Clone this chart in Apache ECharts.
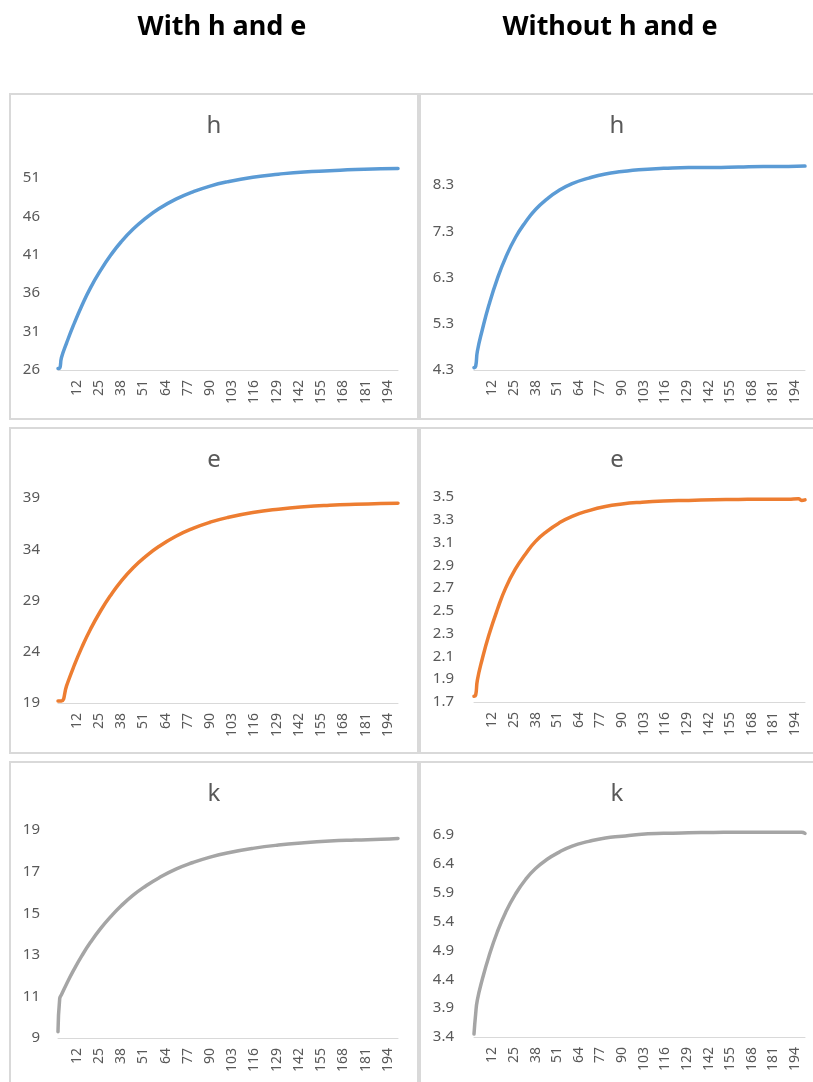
<!DOCTYPE html>
<html lang="en">
<head>
<meta charset="UTF-8">
<title>h, e, k</title>
<style>
  body { margin: 0; background: #fff; }
  #main { width: 813px; height: 1082px; }
</style>
</head>
<body>
<div id="main"></div>
<script src="https://cdn.jsdelivr.net/npm/echarts@6/dist/echarts.min.js"></script>
<script>
  // x categories 1..200
  var cats = [];
  for (var i = 1; i <= 200; i++) cats.push(String(i));

  // values (x = category number, y = value)
  var hWithX = [1, 2, 3, 6, 10, 15, 20, 26, 32, 38, 45, 52, 60, 70, 80, 90, 100, 115, 130, 145, 160, 175, 190, 200];
  var hWithY = [26.2, 26.25, 27.6, 29.5, 31.8, 34.4, 36.7, 39.0, 41.0, 42.7, 44.35, 45.7, 47.0, 48.25, 49.2, 49.95, 50.5, 51.1, 51.5, 51.8, 51.95, 52.1, 52.2, 52.25];

  var hWoX = [1, 2, 3, 6, 10, 15, 20, 26, 32, 38, 45, 52, 60, 70, 80, 90, 100, 115, 130, 145, 160, 175, 190, 200];
  var hWoY = [4.35, 4.38, 4.70, 5.17, 5.71, 6.27, 6.73, 7.17, 7.50, 7.77, 8.00, 8.18, 8.33, 8.45, 8.54, 8.59, 8.63, 8.66, 8.68, 8.68, 8.69, 8.70, 8.70, 8.71];

  var eWithX = [1, 3, 6, 10, 15, 20, 26, 32, 38, 45, 52, 60, 70, 80, 90, 100, 115, 130, 145, 160, 175, 190, 200];
  var eWithY = [19.2, 19.2, 20.67, 22.46, 24.45, 26.2, 28.0, 29.55, 30.9, 32.2, 33.26, 34.27, 35.27, 36.04, 36.64, 37.09, 37.58, 37.91, 38.14, 38.29, 38.39, 38.46, 38.5];

  var eWoX = [1, 2, 3, 6, 10, 15, 20, 26, 32, 38, 45, 52, 60, 70, 80, 90, 100, 115, 130, 145, 160, 175, 190, 196, 198, 200];
  var eWoY = [1.75, 1.76, 1.89, 2.08, 2.29, 2.51, 2.70, 2.87, 3.0, 3.11, 3.20, 3.27, 3.33, 3.38, 3.416, 3.438, 3.452, 3.465, 3.47, 3.475, 3.478, 3.48, 3.48, 3.485, 3.47, 3.475];

  var kWithX = [1, 2, 3, 6, 10, 15, 20, 26, 32, 38, 45, 52, 60, 70, 80, 90, 100, 115, 130, 145, 160, 175, 190, 200];
  var kWithY = [9.3, 10.9, 11.08, 11.6, 12.24, 12.96, 13.6, 14.27, 14.85, 15.36, 15.87, 16.29, 16.7, 17.12, 17.44, 17.70, 17.9, 18.12, 18.28, 18.39, 18.47, 18.52, 18.56, 18.6];

  var kWoX = [1, 2, 3, 6, 10, 15, 20, 26, 32, 38, 45, 52, 60, 70, 80, 90, 100, 115, 130, 145, 160, 175, 190, 198, 200];
  var kWoY = [3.45, 3.8, 4.04, 4.4, 4.8, 5.22, 5.56, 5.88, 6.13, 6.32, 6.48, 6.6, 6.71, 6.79, 6.85, 6.88, 6.91, 6.93, 6.94, 6.945, 6.95, 6.95, 6.95, 6.95, 6.93];

  // y axis ticks: first tick label and step
  var yMins = [26, 4.3, 19, 1.7, 9, 3.4];
  var ySteps = [5, 1, 5, 0.2, 2, 0.5];

  var headers = ['With h and e', 'Without h and e'];
  var titles = ['h', 'h', 'e', 'e', 'k', 'k'];

  var blue = '#5B9BD5', orange = '#ED7D31', grey = '#A5A5A5';
  var font = '"Noto Sans", "Open Sans", sans-serif';

  // panel layout (left col / right col, three rows)
  var panels = [
    { x: hWithX, y: hWithY, color: blue,   left: 58,  top: 150, height: 220, max: 54.65, box: [10, 94],  tx: 214, ty: 126 },
    { x: hWoX,   y: hWoY,   color: blue,   left: 474, top: 150, height: 220, max: 9.057, box: [420, 94], tx: 617, ty: 126 },
    { x: eWithX, y: eWithY, color: orange, left: 58,  top: 480, height: 223, max: 40.76, box: [10, 428], tx: 214, ty: 460 },
    { x: eWoX,   y: eWoY,   color: orange, left: 474, top: 480, height: 222, max: 3.649, box: [420, 428], tx: 617, ty: 460 },
    { x: kWithX, y: kWithY, color: grey,   left: 58,  top: 812, height: 226, max: 19.87, box: [10, 762], tx: 214, ty: 794 },
    { x: kWoX,   y: kWoY,   color: grey,   left: 474, top: 812, height: 225, max: 7.30,  box: [420, 762], tx: 617, ty: 794 }
  ];

  var grids = [], xAxes = [], yAxes = [], series = [], graphics = [];

  graphics.push({ type: 'text', x: 222, y: 27, style: { text: headers[0], font: 'bold 27px ' + font, fill: '#000', align: 'center', verticalAlign: 'middle' } });
  graphics.push({ type: 'text', x: 610, y: 27, style: { text: headers[1], font: 'bold 27px ' + font, fill: '#000', align: 'center', verticalAlign: 'middle' } });

  panels.forEach(function (p, i) {
    var isLeft = p.left < 400;
    grids.push({ left: p.left, top: p.top, width: isLeft ? 340 : 331, height: p.height });

    xAxes.push({
      type: 'category',
      gridIndex: i,
      data: cats,
      boundaryGap: false,
      axisTick: { show: false },
      axisLine: { lineStyle: { color: '#D9D9D9', width: 1 } },
      axisLabel: {
        rotate: 90,
        margin: 10,
        color: '#595959',
        fontSize: 14,
        fontFamily: font,
        interval: function (idx) { return idx >= 11 && (idx - 11) % 13 === 0; }
      },
      splitLine: { show: false }
    });

    yAxes.push({
      type: 'value',
      gridIndex: i,
      min: yMins[i],
      max: p.max,
      interval: ySteps[i],
      axisLine: { show: false },
      axisTick: { show: false },
      splitLine: { show: false },
      axisLabel: {
        showMaxLabel: false,
        margin: isLeft ? 18 : 20,
        color: '#595959',
        fontSize: 15,
        fontFamily: font
      }
    });

    var pts = p.x.map(function (c, j) { return [c - 1, p.y[j]]; });
    series.push({
      type: 'line',
      xAxisIndex: i,
      yAxisIndex: i,
      data: pts,
      smooth: 0.5,
      showSymbol: false,
      lineStyle: { color: p.color, width: 3.5, cap: 'round', join: 'round' },
      animation: false
    });

    // panel border and title
    graphics.push({
      type: 'rect',
      shape: { x: p.box[0], y: p.box[1], width: isLeft ? 408 : 400, height: 325 },
      style: { fill: 'none', stroke: '#D9D9D9', lineWidth: 2 }
    });
    graphics.push({
      type: 'text', x: p.tx, y: p.ty,
      style: { text: titles[i], font: '24px ' + font, fill: '#595959', align: 'center', verticalAlign: 'middle' }
    });
  });

  var myChart = echarts.init(document.getElementById('main'));
  myChart.setOption({
    backgroundColor: '#fff',
    animation: false,
    grid: grids,
    xAxis: xAxes,
    yAxis: yAxes,
    series: series,
    graphic: graphics
  });
</script>
</body>
</html>
